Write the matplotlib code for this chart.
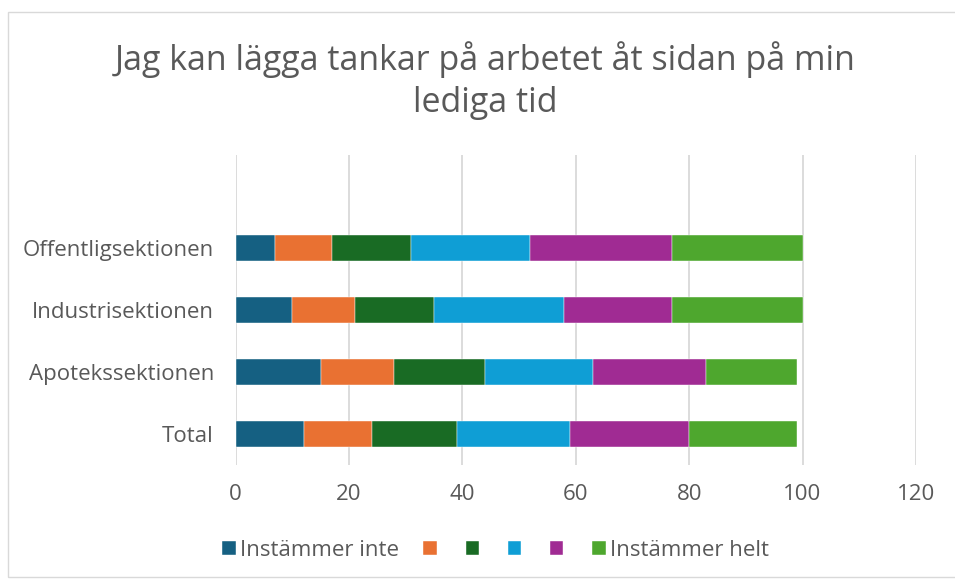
import matplotlib.pyplot as plt
from matplotlib.patches import Rectangle

plt.rcParams['font.family'] = ['Open Sans', 'DejaVu Sans']

# categories from bottom to top
categories = ["Total", "Apotekssektionen", "Industrisektionen", "Offentligsektionen"]
series_names = ["Instämmer inte", "", "", "", "", "Instämmer helt"]

s1 = [12, 15, 10, 7]
s2 = [12, 13, 11, 10]
s3 = [15, 16, 14, 14]
s4 = [20, 19, 23, 21]
s5 = [21, 20, 19, 25]
s6 = [19, 16, 23, 23]
series = [s1, s2, s3, s4, s5, s6]

colors = ["#156082", "#E97132", "#196B24", "#0F9ED5", "#A02B93", "#4EA72E"]
text_col = "#595959"
grid_col = "#D9D9D9"

fig = plt.figure(figsize=(9.55, 5.79), dpi=100)
fig.patches.append(Rectangle((8 / 955, 2 / 579), 960 / 955, 565 / 579,
                             transform=fig.transFigure, fill=False,
                             edgecolor=grid_col, linewidth=1))

ax = fig.add_axes([0.2466, 0.1969, 0.7125, 0.5354])

ypos = list(range(len(categories)))
left = [0] * len(categories)
handles = []
for vals, c in zip(series, colors):
    bars = ax.barh(ypos, vals, left=left, height=0.41, color=c,
                   edgecolor="white", linewidth=0.3, zorder=3)
    handles.append(bars)
    left = [a + b for a, b in zip(left, vals)]

ax.set_xlim(0, 120)
ax.set_ylim(-0.5, 4.5)
ax.set_xticks(range(0, 121, 20))
ax.set_yticks(ypos)
ax.set_yticklabels(categories)
ax.tick_params(length=0, labelsize=16, colors=text_col)
ax.tick_params(axis='y', pad=15.5)
ax.tick_params(axis='x', pad=14)
ax.grid(axis='x', color=grid_col, linewidth=1.3, zorder=0)
for sp in ax.spines.values():
    sp.set_visible(False)

fig.text(0.508, 0.861, "Jag kan lägga tankar på arbetet åt sidan på min\nlediga tid",
         ha='center', va='center', fontsize=24.5, color=text_col, linespacing=1.28)

fig.legend(handles, series_names, loc='center', bbox_to_anchor=(0.519, 0.049),
           ncol=6, frameon=False, fontsize=16, handlelength=0.6, handleheight=0.6,
           handletextpad=0.2, columnspacing=1.1, labelcolor=text_col)

fig.savefig("out.png", dpi=100)
